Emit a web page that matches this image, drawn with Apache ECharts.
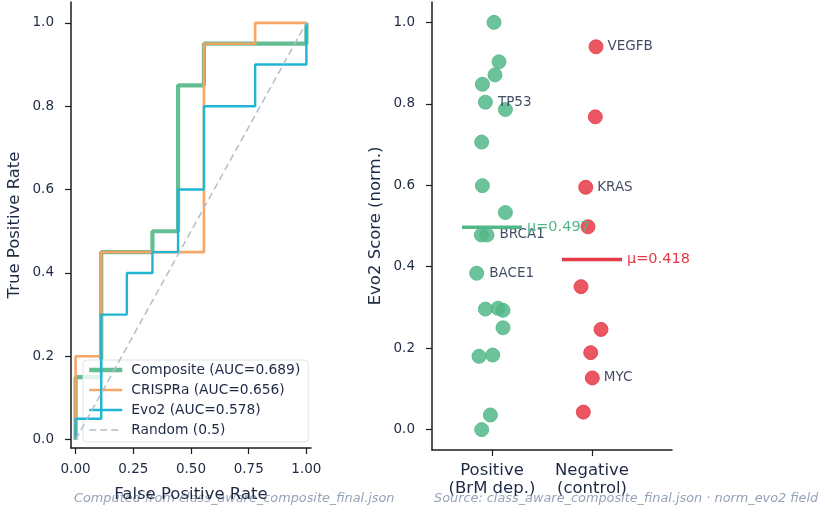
<!DOCTYPE html>
<html><head><meta charset="utf-8">
<script src="https://cdn.jsdelivr.net/npm/echarts@6/dist/echarts.min.js"></script>
<style>html,body{margin:0;padding:0;background:#fff}#c{width:819px;height:508px}</style>
</head><body><div id="c"></div>
<script>
// ROC data
const fprComposite = [0,0,0.111,0.111,0.333,0.333,0.444,0.444,0.556,0.556,1,1];
const tprComposite = [0,0.15,0.15,0.45,0.45,0.5,0.5,0.85,0.85,0.95,0.95,1];
const fprCrispra = [0,0,0.111,0.111,0.556,0.556,0.778,0.778,1];
const tprCrispra = [0,0.2,0.2,0.45,0.45,0.95,0.95,1,1];
const fprEvo2 = [0,0,0.111,0.111,0.222,0.222,0.333,0.333,0.444,0.444,0.556,0.556,0.778,0.778,1,1];
const tprEvo2 = [0,0.05,0.05,0.3,0.3,0.4,0.4,0.45,0.45,0.6,0.6,0.8,0.8,0.9,0.9,1];
const rocNames = ['Composite (AUC=0.689)','CRISPRa (AUC=0.656)','Evo2 (AUC=0.578)','Random (0.5)'];
const fprTicks = [0,0.25,0.5,0.75,1];
const tprTicks = [0,0.2,0.4,0.6,0.8,1];

// Strip plot data
const categories = ['Positive\n(BrM dep.)','Negative\n(control)'];
const posJitter = [0.02,0.07,0.03,-0.096,-0.066,0.134,-0.103,-0.096,0.134,-0.106,-0.05,-0.153,-0.066,0.06,0.11,0.11,-0.13,0.007,-0.016,-0.103];
const posScore  = [1.0,0.903,0.871,0.848,0.804,0.786,0.706,0.599,0.533,0.478,0.478,0.384,0.296,0.298,0.293,0.25,0.18,0.183,0.036,0.0];
const posLabels = ['','','','','TP53','','','','','','BRCA1','BACE1','','','','','','','',''];
const negJitter = [0.04,0.033,-0.063,-0.04,-0.11,0.09,-0.013,0.003,-0.087];
const negScore  = [0.94,0.768,0.595,0.498,0.351,0.246,0.189,0.127,0.043];
const negLabels = ['VEGFB','','KRAS','','','','','MYC',''];
const posMean = 0.497, negMean = 0.418;
const scoreTicks = [0,0.2,0.4,0.6,0.8,1];

const GREEN='#52b788', ORANGE='#f4a261', CYAN='#1fb5d3', RED='#e63946', GRAY='#b3bdcb';
const TXT='#1e2a44', AX='#1b1b1b';

const zip=(a,b)=>a.map((v,i)=>[v,b[i]]);
function pts(cx, jit, sc, lab){
  return jit.map((j,i)=>({value:[cx+j, sc[i]], name:lab[i]}));
}
const axisCommon = {
  axisLine:{show:true,onZero:false,lineStyle:{color:AX,width:1.5}},
  axisTick:{show:true,length:6,lineStyle:{color:AX,width:1.2}},
  splitLine:{show:false},
  nameTextStyle:{color:TXT,fontSize:16.5,fontFamily:'DejaVu Sans'},
  nameLocation:'middle'
};
const lblCommon = {color:TXT,fontSize:13.5,fontFamily:'DejaVu Sans'};

const chart = echarts.init(document.getElementById('c'),null,{renderer:'canvas'});
chart.setOption({
  animation:false,
  backgroundColor:'#fff',
  grid:[
    {left:71,top:2,width:240,height:447},
    {left:432,top:2,width:240,height:448}
  ],
  xAxis:[
    Object.assign({},axisCommon,{type:'value',gridIndex:0,min:-0.02,max:1.02,name:'False Positive Rate',nameGap:38,
      axisTick:Object.assign({},axisCommon.axisTick,{customValues:fprTicks}),
      axisLabel:Object.assign({},lblCommon,{customValues:fprTicks,margin:14,formatter:v=>v.toFixed(2)})}),
    Object.assign({},axisCommon,{type:'value',gridIndex:1,min:-0.6,max:1.8,
      axisTick:Object.assign({},axisCommon.axisTick,{customValues:[0,1]}),
      axisLabel:{color:TXT,fontSize:16.5,fontFamily:'DejaVu Sans',lineHeight:18,margin:12,customValues:[0,1],formatter:v=>categories[Math.round(v)]}})
  ],
  yAxis:[
    Object.assign({},axisCommon,{type:'value',gridIndex:0,min:-0.02,max:1.05,name:'True Positive Rate',nameGap:48,
      axisTick:Object.assign({},axisCommon.axisTick,{customValues:tprTicks}),
      axisLabel:Object.assign({},lblCommon,{customValues:tprTicks,margin:17,formatter:v=>v.toFixed(1)})}),
    Object.assign({},axisCommon,{type:'value',gridIndex:1,min:-0.05,max:1.05,name:'Evo2 Score (norm.)',nameGap:48,
      axisTick:Object.assign({},axisCommon.axisTick,{customValues:scoreTicks}),
      axisLabel:Object.assign({},lblCommon,{customValues:scoreTicks,margin:17,formatter:v=>v.toFixed(1)})})
  ],
  legend:{
    data:[
      {name:rocNames[0],lineStyle:{width:4.5}},
      {name:rocNames[1],lineStyle:{width:2.6}},
      {name:rocNames[2],lineStyle:{width:2.6}},
      {name:rocNames[3],lineStyle:{width:1.5}}
    ],
    orient:'vertical', left:83, top:360,
    padding:[3,8,5,4], itemWidth:33, itemHeight:12, itemGap:6,
    itemStyle:{opacity:0},
    backgroundColor:'rgba(255,255,255,0.8)', borderColor:'#dfe4ea', borderWidth:1, borderRadius:4,
    textStyle:{color:TXT,fontSize:13.8,fontFamily:'DejaVu Sans',padding:[0,0,0,4]},
    selectedMode:false
  },
  series:[
    {name:rocNames[0],type:'line',xAxisIndex:0,yAxisIndex:0,data:zip(fprComposite,tprComposite),symbol:'none',
      lineStyle:{color:GREEN,width:4.2,opacity:0.9},itemStyle:{color:GREEN},z:2},
    {name:rocNames[1],type:'line',xAxisIndex:0,yAxisIndex:0,data:zip(fprCrispra,tprCrispra),symbol:'none',
      lineStyle:{color:ORANGE,width:2.6,opacity:0.95},itemStyle:{color:ORANGE},z:3},
    {name:rocNames[2],type:'line',xAxisIndex:0,yAxisIndex:0,data:zip(fprEvo2,tprEvo2),symbol:'none',
      lineStyle:{color:CYAN,width:2.4},itemStyle:{color:CYAN},z:4},
    {name:rocNames[3],type:'line',xAxisIndex:0,yAxisIndex:0,data:[[0,0],[1,1]],symbol:'none',
      lineStyle:{color:GRAY,width:1.5,type:[7,4]},itemStyle:{color:GRAY},z:5},
    {name:'pos',type:'scatter',xAxisIndex:1,yAxisIndex:1,data:pts(0,posJitter,posScore,posLabels),symbolSize:14,
      itemStyle:{color:GREEN,opacity:0.85,borderColor:GREEN,borderWidth:1},
      label:{show:true,position:'right',distance:5,formatter:p=>p.name,color:TXT,fontSize:13.5,fontFamily:'DejaVu Sans'},z:3},
    {name:'neg',type:'scatter',xAxisIndex:1,yAxisIndex:1,data:pts(1,negJitter,negScore,negLabels),symbolSize:14,
      itemStyle:{color:RED,opacity:0.85,borderColor:RED,borderWidth:1},
      label:{show:true,position:'right',distance:4,formatter:p=>p.name,color:TXT,fontSize:13.5,fontFamily:'DejaVu Sans'},z:3},
    {name:'posMean',type:'line',xAxisIndex:1,yAxisIndex:1,data:[[-0.3,posMean],[0.3,posMean]],symbol:'none',
      lineStyle:{color:GREEN,width:3.5},z:4,
      endLabel:{show:true,formatter:'μ='+posMean.toFixed(3),color:GREEN,fontSize:14.5,fontFamily:'DejaVu Sans',distance:5}},
    {name:'negMean',type:'line',xAxisIndex:1,yAxisIndex:1,data:[[0.7,negMean],[1.3,negMean]],symbol:'none',
      lineStyle:{color:RED,width:3.5},z:4,
      endLabel:{show:true,formatter:'μ='+negMean.toFixed(3),color:RED,fontSize:14.5,fontFamily:'DejaVu Sans',distance:5}}
  ],
  graphic:[
    {type:'text',left:74,top:492,style:{text:'Computed from class_aware_composite_final.json',fill:'#94a3b8',font:'italic 12.85px "DejaVu Sans"'}},
    {type:'text',left:434,top:492,style:{text:'Source: class_aware_composite_final.json · norm_evo2 field',fill:'#94a3b8',font:'italic 12.85px "DejaVu Sans"'}}
  ]
});
</script></body></html>
